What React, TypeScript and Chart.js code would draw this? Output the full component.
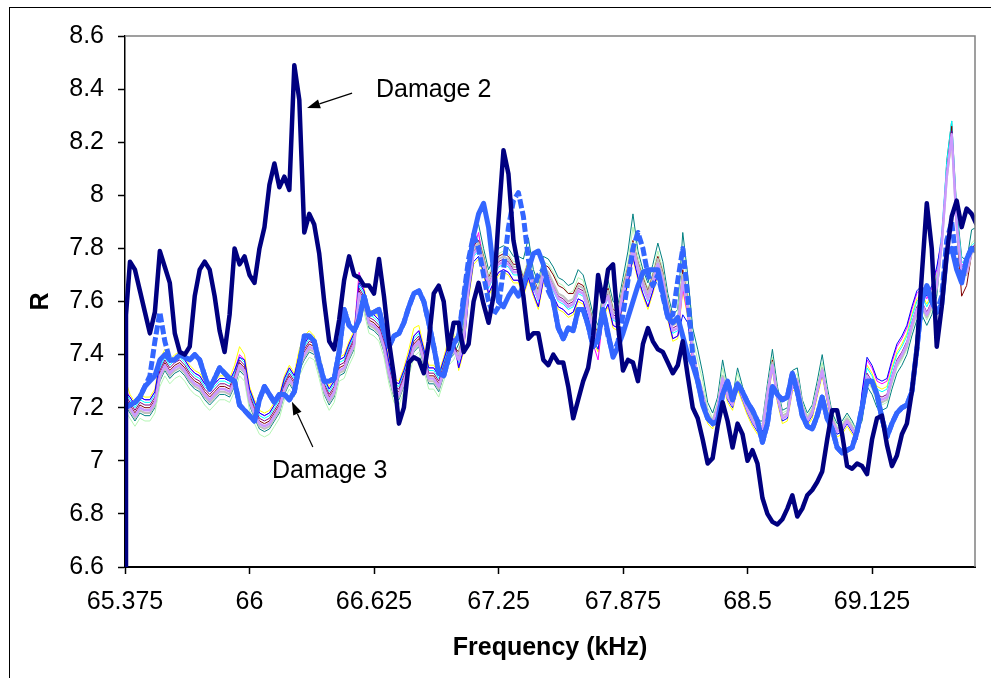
import { useEffect, useRef } from 'react';
import { Chart, registerables } from 'chart.js';

Chart.register(...registerables);

// Sweep grid: 65.375 kHz upward in 0.025 kHz steps (172 samples)
const FREQ_START = 65.375;
const FREQ_STEP = 0.025;
const FREQ_COUNT = 172;
const FREQ = Array.from({ length: FREQ_COUNT }, (_, i) => +(FREQ_START + i * FREQ_STEP).toFixed(3));

const X_MIN = 65.375;
const X_MAX = 69.642;
const X_TICKS = [65.375, 66, 66.625, 67.25, 67.875, 68.5, 69.125];
const Y_TICKS = [6.6, 6.8, 7, 7.2, 7.4, 7.6, 7.8, 8, 8.2, 8.4, 8.6];

// Damage 2 (first sample is a dropout, recovers at 65.38 kHz)
const DAMAGE2_RECOVERY = [65.38, 7.55];
const damage2 = [
  0, 7.75, 7.72, 7.64, 7.56, 7.48, 7.56, 7.79, 7.73, 7.67,
  7.48, 7.41, 7.40, 7.43, 7.62, 7.72, 7.75, 7.72, 7.62, 7.49,
  7.41, 7.55, 7.80, 7.74, 7.77, 7.70, 7.67, 7.80, 7.88, 8.04,
  8.12, 8.03, 8.07, 8.02, 8.49, 8.36, 7.86, 7.93, 7.89, 7.78,
  7.60, 7.45, 7.42, 7.53, 7.68, 7.77, 7.70, 7.69, 7.66, 7.66,
  7.63, 7.76, 7.62, 7.45, 7.32, 7.14, 7.20, 7.37, 7.39, 7.38,
  7.33, 7.45, 7.63, 7.66, 7.60, 7.42, 7.52, 7.52, 7.41, 7.44,
  7.60, 7.67, 7.59, 7.52, 7.62, 7.91, 8.17, 8.08, 7.83, 7.73,
  7.62, 7.46, 7.48, 7.48, 7.38, 7.36, 7.40, 7.37, 7.37, 7.28,
  7.16, 7.23, 7.30, 7.35, 7.47, 7.70, 7.60, 7.72, 7.74, 7.51,
  7.34, 7.38, 7.37, 7.30, 7.44, 7.50, 7.45, 7.42, 7.41, 7.37,
  7.33, 7.36, 7.45, 7.32, 7.20, 7.16, 7.08, 6.99, 7.01, 7.13,
  7.22, 7.15, 7.05, 7.14, 7.10, 7.00, 7.04, 6.99, 6.86, 6.80,
  6.77, 6.76, 6.78, 6.82, 6.87, 6.79, 6.82, 6.87, 6.89, 6.92,
  6.96, 7.08, 7.19, 7.19, 7.10, 6.98, 6.97, 6.99, 6.98, 6.95,
  7.08, 7.16, 7.17, 7.06, 6.98, 7.02, 7.10, 7.14, 7.26, 7.42,
  7.70, 7.97, 7.80, 7.43, 7.58, 7.78, 7.92, 7.98, 7.88, 7.95,
  7.93, 7.89,
];

// Damage 3 (thick solid)
const damage3 = [
  7.20, 7.21, 7.22, 7.24, 7.28, 7.30, 7.32, 7.38, 7.40, 7.38,
  7.38, 7.40, 7.39, 7.38, 7.40, 7.38, 7.32, 7.27, 7.31, 7.35,
  7.33, 7.31, 7.30, 7.21, 7.19, 7.17, 7.15, 7.23, 7.28, 7.25,
  7.22, 7.25, 7.25, 7.23, 7.26, 7.36, 7.47, 7.47, 7.45, 7.37,
  7.30, 7.30, 7.31, 7.41, 7.57, 7.51, 7.49, 7.53, 7.62, 7.55,
  7.56, 7.57, 7.49, 7.43, 7.47, 7.48, 7.52, 7.58, 7.63, 7.64,
  7.60, 7.52, 7.43, 7.33, 7.32, 7.39, 7.44, 7.47, 7.60, 7.73,
  7.85, 7.93, 7.97, 7.88, 7.72, 7.60, 7.58, 7.62, 7.65, 7.62,
  7.66, 7.72, 7.78, 7.79, 7.74, 7.66, 7.60, 7.50, 7.46, 7.50,
  7.49, 7.57, 7.57, 7.51, 7.43, 7.46, 7.57, 7.48, 7.39, 7.43,
  7.48, 7.54, 7.60, 7.66, 7.71, 7.72, 7.72, 7.72, 7.63, 7.54,
  7.52, 7.54, 7.47, 7.40, 7.36, 7.30, 7.21, 7.16, 7.14, 7.15,
  7.25, 7.30, 7.23, 7.29, 7.26, 7.22, 7.19, 7.15, 7.07, 7.14,
  7.28, 7.25, 7.23, 7.24, 7.33, 7.26, 7.17, 7.13, 7.12, 7.17,
  7.24, 7.16, 7.12, 7.05, 7.03, 7.04, 7.05, 7.11, 7.20, 7.30,
  7.30, 7.25, 7.16, 7.09, 7.14, 7.18, 7.20, 7.21, 7.26, 7.42,
  7.60, 7.66, 7.60, 7.56, 7.59, 7.78, 7.80, 7.72, 7.67, 7.76,
  7.80, 7.79,
];

// Damage 1 (thick dashed)
const damage1 = [
  7.20, 7.21, 7.22, 7.24, 7.28, 7.32, 7.45, 7.56, 7.45, 7.38,
  7.38, 7.40, 7.39, 7.38, 7.40, 7.38, 7.32, 7.27, 7.31, 7.35,
  7.33, 7.31, 7.30, 7.21, 7.19, 7.17, 7.15, 7.23, 7.28, 7.25,
  7.22, 7.25, 7.25, 7.23, 7.26, 7.36, 7.47, 7.47, 7.45, 7.37,
  7.30, 7.30, 7.31, 7.41, 7.57, 7.51, 7.49, 7.53, 7.62, 7.55,
  7.56, 7.57, 7.49, 7.43, 7.47, 7.48, 7.52, 7.58, 7.63, 7.64,
  7.60, 7.52, 7.43, 7.33, 7.32, 7.39, 7.44, 7.47, 7.62, 7.76,
  7.85, 7.80, 7.70, 7.60, 7.55, 7.58, 7.72, 7.88, 7.98, 8.01,
  7.92, 7.76, 7.65, 7.70, 7.72, 7.64, 7.60, 7.50, 7.46, 7.50,
  7.49, 7.57, 7.57, 7.51, 7.43, 7.46, 7.57, 7.47, 7.40, 7.45,
  7.55, 7.68, 7.80, 7.86, 7.80, 7.70, 7.66, 7.70, 7.62, 7.54,
  7.55, 7.68, 7.80, 7.62, 7.40, 7.30, 7.22, 7.16, 7.14, 7.15,
  7.25, 7.30, 7.23, 7.29, 7.26, 7.22, 7.19, 7.15, 7.07, 7.14,
  7.28, 7.25, 7.23, 7.24, 7.33, 7.26, 7.17, 7.13, 7.12, 7.17,
  7.24, 7.16, 7.12, 7.05, 7.03, 7.04, 7.05, 7.11, 7.20, 7.30,
  7.30, 7.25, 7.16, 7.09, 7.14, 7.18, 7.20, 7.21, 7.26, 7.42,
  7.60, 7.66, 7.60, 7.56, 7.62, 7.83, 7.90, 7.74, 7.68, 7.76,
  7.80, 7.79,
];

// Undamaged reference sweeps (thin lines)
const baselineTeal = [
  7.21, 7.18, 7.15, 7.18, 7.17, 7.17, 7.20, 7.30, 7.34, 7.31, 7.33, 7.34, 7.32, 7.29, 7.27, 7.26, 7.23, 7.21, 7.23, 7.25,
  7.25, 7.24, 7.28, 7.34, 7.32, 7.21, 7.16, 7.12, 7.11, 7.12, 7.15, 7.18, 7.25, 7.29, 7.26, 7.34, 7.38, 7.41, 7.40, 7.33,
  7.25, 7.21, 7.24, 7.32, 7.33, 7.38, 7.42, 7.61, 7.58, 7.50, 7.49, 7.47, 7.41, 7.31, 7.24, 7.23, 7.28, 7.34, 7.41, 7.43,
  7.36, 7.29, 7.29, 7.26, 7.32, 7.38, 7.40,
  7.44, 7.51, 7.71, 7.87, 7.89, 7.80, 7.72, 7.76, 7.80, 7.81, 7.80, 7.77, 7.77, 7.76, 7.84, 7.72, 7.67, 7.77, 7.76, 7.73,
  7.69, 7.68, 7.66, 7.67, 7.72, 7.70, 7.63, 7.55, 7.51, 7.64, 7.68, 7.60, 7.59, 7.69, 7.79, 7.93, 7.79, 7.72, 7.67, 7.74,
  7.82, 7.75, 7.63, 7.55, 7.57, 7.86, 7.70,
  7.50, 7.42, 7.33, 7.22, 7.18, 7.24, 7.38, 7.28, 7.24, 7.35, 7.28, 7.22, 7.18, 7.15, 7.15, 7.29, 7.42, 7.28, 7.19, 7.20,
  7.34, 7.35, 7.23, 7.18, 7.21, 7.30, 7.40, 7.28, 7.18, 7.14, 7.15, 7.18, 7.15, 7.11,
  7.15, 7.28, 7.25, 7.20, 7.19, 7.20, 7.27, 7.33, 7.36, 7.40, 7.47, 7.53, 7.55, 7.51, 7.55, 7.62,
  7.81, 8.13, 8.28, 7.95, 7.77, 7.75, 7.87, 7.88,
];
const baselineLightGreen = [
  7.19, 7.16, 7.13, 7.16, 7.15, 7.15, 7.18, 7.28, 7.32, 7.29, 7.31, 7.32, 7.30, 7.27, 7.25, 7.24, 7.21, 7.19, 7.21, 7.23,
  7.23, 7.22, 7.26, 7.32, 7.30, 7.19, 7.14, 7.10, 7.09, 7.10, 7.13, 7.16, 7.23, 7.27, 7.24, 7.32, 7.36, 7.39, 7.38, 7.31,
  7.23, 7.19, 7.22, 7.30, 7.31, 7.36, 7.40, 7.59, 7.56, 7.48, 7.47, 7.45, 7.39, 7.29, 7.22, 7.21, 7.26, 7.32, 7.39, 7.41,
  7.34, 7.27, 7.27, 7.24, 7.30, 7.36, 7.38,
  7.42, 7.49, 7.69, 7.83, 7.85, 7.78, 7.70, 7.74, 7.78, 7.79, 7.78, 7.75, 7.75, 7.70, 7.76, 7.70, 7.66, 7.75, 7.74, 7.71,
  7.67, 7.66, 7.63, 7.64, 7.69, 7.68, 7.61, 7.53, 7.49, 7.62, 7.66, 7.58, 7.57, 7.67, 7.75, 7.88, 7.77, 7.70, 7.65, 7.71,
  7.79, 7.72, 7.61, 7.53, 7.55, 7.80, 7.64,
  7.46, 7.38, 7.30, 7.20, 7.16, 7.22, 7.35, 7.26, 7.23, 7.33, 7.26, 7.21, 7.17, 7.14, 7.14, 7.27, 7.39, 7.26, 7.18, 7.19,
  7.31, 7.33, 7.22, 7.17, 7.20, 7.28, 7.37, 7.26, 7.17, 7.13, 7.14, 7.17, 7.14, 7.12,
  7.17, 7.30, 7.27, 7.22, 7.21, 7.22, 7.29, 7.35, 7.38, 7.42, 7.49, 7.55, 7.57, 7.53, 7.57, 7.64,
  7.83, 8.08, 8.22, 7.92, 7.75, 7.74, 7.82, 7.84,
];
const baselineYellow = [
  7.31, 7.25, 7.22, 7.25, 7.24, 7.24, 7.27, 7.38, 7.42, 7.38, 7.40, 7.41, 7.39, 7.36, 7.34, 7.33, 7.30, 7.28, 7.30, 7.32,
  7.32, 7.31, 7.36, 7.43, 7.40, 7.28, 7.23, 7.19, 7.18, 7.19, 7.22, 7.25, 7.32, 7.36, 7.33, 7.42, 7.47, 7.49, 7.47, 7.40,
  7.32, 7.28, 7.31, 7.39, 7.40, 7.45, 7.49, 7.69, 7.65, 7.57, 7.56, 7.54, 7.48, 7.38, 7.31, 7.30, 7.35, 7.42, 7.50, 7.51,
  7.43, 7.36, 7.36, 7.33, 7.39, 7.46, 7.48,
  7.34, 7.41, 7.61, 7.74, 7.76, 7.70, 7.62, 7.66, 7.70, 7.71, 7.70, 7.67, 7.67, 7.62, 7.68, 7.62, 7.57, 7.67, 7.65, 7.61,
  7.57, 7.56, 7.54, 7.55, 7.60, 7.59, 7.53, 7.45, 7.41, 7.54, 7.58, 7.50, 7.49, 7.59, 7.66, 7.76, 7.68, 7.62, 7.57, 7.63,
  7.70, 7.64, 7.53, 7.45, 7.46, 7.64, 7.54,
  7.35, 7.27, 7.21, 7.14, 7.12, 7.18, 7.29, 7.22, 7.19, 7.27, 7.22, 7.17, 7.13, 7.10, 7.10, 7.23, 7.34, 7.22, 7.14, 7.15,
  7.26, 7.28, 7.18, 7.13, 7.16, 7.24, 7.32, 7.22, 7.13, 7.09, 7.10, 7.13, 7.10, 7.08,
  7.23, 7.36, 7.33, 7.28, 7.27, 7.28, 7.35, 7.41, 7.44, 7.48, 7.55, 7.61, 7.63, 7.59, 7.63, 7.70,
  7.82, 8.06, 8.20, 7.88, 7.71, 7.71, 7.79, 7.81,
];
const baselineMagenta = [
  7.27, 7.24, 7.21, 7.24, 7.23, 7.23, 7.26, 7.36, 7.40, 7.37, 7.39, 7.40, 7.38, 7.35, 7.33, 7.32, 7.29, 7.27, 7.29, 7.31,
  7.31, 7.30, 7.34, 7.40, 7.38, 7.27, 7.22, 7.18, 7.17, 7.18, 7.21, 7.24, 7.31, 7.35, 7.32, 7.40, 7.44, 7.47, 7.46, 7.39,
  7.31, 7.27, 7.30, 7.38, 7.39, 7.44, 7.48, 7.71, 7.64, 7.56, 7.55, 7.53, 7.47, 7.37, 7.30, 7.29, 7.34, 7.40, 7.47, 7.49,
  7.42, 7.35, 7.35, 7.32, 7.38, 7.44, 7.46,
  7.35, 7.42, 7.64, 7.80, 7.86, 7.74, 7.63, 7.67, 7.71, 7.72, 7.71, 7.68, 7.68, 7.63, 7.69, 7.63, 7.58, 7.68, 7.66, 7.62,
  7.58, 7.57, 7.55, 7.56, 7.61, 7.60, 7.54, 7.44, 7.38, 7.55, 7.59, 7.51, 7.50, 7.60, 7.67, 7.77, 7.69, 7.63, 7.58, 7.64,
  7.71, 7.65, 7.54, 7.46, 7.47, 7.65, 7.55,
  7.37, 7.29, 7.23, 7.16, 7.14, 7.20, 7.31, 7.24, 7.21, 7.29, 7.24, 7.19, 7.15, 7.12, 7.12, 7.25, 7.36, 7.24, 7.16, 7.17,
  7.28, 7.30, 7.20, 7.15, 7.18, 7.26, 7.34, 7.24, 7.15, 7.11, 7.12, 7.15, 7.12, 7.09,
  7.25, 7.38, 7.35, 7.30, 7.29, 7.30, 7.37, 7.43, 7.46, 7.50, 7.57, 7.63, 7.65, 7.61, 7.65, 7.72,
  7.85, 8.10, 8.25, 7.92, 7.74, 7.73, 7.80, 7.82,
];
const baselineCyan = [
  7.26, 7.23, 7.20, 7.23, 7.22, 7.22, 7.25, 7.35, 7.39, 7.36, 7.38, 7.39, 7.37, 7.34, 7.32, 7.31, 7.28, 7.26, 7.28, 7.30,
  7.30, 7.29, 7.33, 7.39, 7.37, 7.26, 7.21, 7.17, 7.16, 7.17, 7.20, 7.23, 7.30, 7.34, 7.31, 7.39, 7.43, 7.46, 7.45, 7.38,
  7.30, 7.26, 7.29, 7.37, 7.38, 7.43, 7.47, 7.66, 7.63, 7.55, 7.54, 7.52, 7.46, 7.36, 7.29, 7.28, 7.33, 7.39, 7.46, 7.48,
  7.41, 7.34, 7.34, 7.31, 7.37, 7.43, 7.45,
  7.37, 7.44, 7.64, 7.77, 7.79, 7.73, 7.65, 7.69, 7.73, 7.74, 7.73, 7.70, 7.70, 7.65, 7.71, 7.65, 7.60, 7.70, 7.68, 7.64,
  7.60, 7.59, 7.57, 7.58, 7.63, 7.62, 7.56, 7.48, 7.44, 7.57, 7.61, 7.53, 7.52, 7.62, 7.69, 7.79, 7.71, 7.65, 7.60, 7.66,
  7.73, 7.67, 7.56, 7.48, 7.49, 7.67, 7.57,
  7.41, 7.33, 7.26, 7.18, 7.15, 7.21, 7.32, 7.25, 7.22, 7.30, 7.25, 7.20, 7.16, 7.13, 7.13, 7.26, 7.37, 7.25, 7.17, 7.18,
  7.29, 7.31, 7.21, 7.16, 7.19, 7.27, 7.35, 7.25, 7.16, 7.12, 7.13, 7.16, 7.13, 7.10,
  7.22, 7.35, 7.32, 7.27, 7.26, 7.27, 7.34, 7.40, 7.43, 7.47, 7.54, 7.60, 7.62, 7.58, 7.62, 7.69,
  7.86, 8.12, 8.28, 7.93, 7.75, 7.74, 7.81, 7.83,
];
const baselineMaroon = [
  7.24, 7.21, 7.18, 7.21, 7.20, 7.20, 7.23, 7.33, 7.37, 7.34, 7.36, 7.37, 7.35, 7.32, 7.30, 7.29, 7.26, 7.24, 7.26, 7.28,
  7.28, 7.27, 7.31, 7.37, 7.35, 7.24, 7.19, 7.15, 7.14, 7.15, 7.18, 7.21, 7.28, 7.32, 7.29, 7.37, 7.41, 7.44, 7.43, 7.36,
  7.28, 7.24, 7.27, 7.35, 7.36, 7.41, 7.45, 7.64, 7.61, 7.53, 7.52, 7.50, 7.44, 7.34, 7.27, 7.26, 7.31, 7.37, 7.44, 7.46,
  7.39, 7.32, 7.32, 7.29, 7.35, 7.41, 7.43,
  7.41, 7.48, 7.68, 7.81, 7.83, 7.77, 7.69, 7.73, 7.77, 7.78, 7.77, 7.74, 7.74, 7.69, 7.75, 7.69, 7.64, 7.74, 7.73, 7.70,
  7.66, 7.65, 7.63, 7.63, 7.67, 7.66, 7.60, 7.52, 7.48, 7.61, 7.65, 7.57, 7.56, 7.66, 7.73, 7.83, 7.75, 7.69, 7.64, 7.70,
  7.77, 7.71, 7.60, 7.52, 7.53, 7.72, 7.61,
  7.41, 7.33, 7.26, 7.18, 7.15, 7.21, 7.32, 7.25, 7.22, 7.30, 7.25, 7.20, 7.16, 7.13, 7.13, 7.26, 7.38, 7.25, 7.17, 7.18,
  7.29, 7.31, 7.21, 7.16, 7.19, 7.27, 7.35, 7.25, 7.16, 7.12, 7.13, 7.16, 7.13, 7.10,
  7.19, 7.32, 7.29, 7.24, 7.23, 7.24, 7.31, 7.37, 7.40, 7.44, 7.51, 7.57, 7.59, 7.55, 7.59, 7.66,
  7.83, 8.08, 8.26, 7.88, 7.62, 7.66, 7.78, 7.80,
];
const baselineBlue = [
  7.26, 7.24, 7.21, 7.24, 7.23, 7.23, 7.26, 7.37, 7.40, 7.37, 7.39, 7.40, 7.38, 7.35, 7.33, 7.32, 7.29, 7.27, 7.29, 7.31,
  7.31, 7.30, 7.34, 7.39, 7.38, 7.27, 7.22, 7.18, 7.17, 7.18, 7.21, 7.24, 7.31, 7.35, 7.32, 7.40, 7.44, 7.47, 7.46, 7.39,
  7.31, 7.27, 7.30, 7.38, 7.39, 7.44, 7.48, 7.67, 7.64, 7.56, 7.55, 7.53, 7.47, 7.37, 7.30, 7.29, 7.34, 7.40, 7.47, 7.49,
  7.42, 7.35, 7.35, 7.32, 7.38, 7.44, 7.46,
  7.35, 7.42, 7.62, 7.75, 7.77, 7.71, 7.63, 7.67, 7.71, 7.72, 7.71, 7.68, 7.68, 7.63, 7.69, 7.63, 7.58, 7.68, 7.66, 7.62,
  7.58, 7.57, 7.55, 7.56, 7.61, 7.60, 7.54, 7.46, 7.42, 7.55, 7.59, 7.51, 7.50, 7.60, 7.67, 7.77, 7.69, 7.63, 7.58, 7.64,
  7.71, 7.65, 7.54, 7.46, 7.47, 7.55, 7.52,
  7.39, 7.31, 7.24, 7.16, 7.13, 7.19, 7.30, 7.23, 7.20, 7.28, 7.23, 7.18, 7.14, 7.11, 7.11, 7.24, 7.35, 7.23, 7.15, 7.16,
  7.27, 7.29, 7.19, 7.14, 7.17, 7.25, 7.33, 7.23, 7.14, 7.10, 7.11, 7.14, 7.11, 7.08,
  7.26, 7.39, 7.36, 7.31, 7.30, 7.31, 7.38, 7.44, 7.47, 7.51, 7.58, 7.64, 7.66, 7.62, 7.66, 7.73,
  7.83, 8.08, 8.24, 7.90, 7.72, 7.72, 7.80, 7.82,
];
const baselinePurple = [
  7.25, 7.22, 7.19, 7.22, 7.21, 7.21, 7.24, 7.34, 7.38, 7.35, 7.37, 7.38, 7.36, 7.33, 7.31, 7.30, 7.27, 7.25, 7.27, 7.29,
  7.29, 7.28, 7.32, 7.38, 7.36, 7.25, 7.20, 7.16, 7.15, 7.16, 7.19, 7.22, 7.29, 7.33, 7.30, 7.38, 7.42, 7.45, 7.44, 7.37,
  7.29, 7.25, 7.28, 7.36, 7.37, 7.42, 7.46, 7.65, 7.62, 7.54, 7.53, 7.51, 7.45, 7.35, 7.28, 7.27, 7.32, 7.38, 7.45, 7.47,
  7.40, 7.33, 7.33, 7.30, 7.36, 7.42, 7.44,
  7.39, 7.46, 7.66, 7.79, 7.81, 7.75, 7.67, 7.71, 7.75, 7.76, 7.75, 7.72, 7.72, 7.67, 7.73, 7.67, 7.62, 7.72, 7.70, 7.66,
  7.62, 7.61, 7.59, 7.60, 7.65, 7.64, 7.58, 7.50, 7.46, 7.59, 7.63, 7.55, 7.54, 7.64, 7.71, 7.81, 7.73, 7.67, 7.62, 7.68,
  7.75, 7.69, 7.58, 7.50, 7.51, 7.69, 7.59,
  7.40, 7.32, 7.25, 7.17, 7.14, 7.20, 7.31, 7.24, 7.21, 7.29, 7.24, 7.19, 7.15, 7.12, 7.12, 7.25, 7.36, 7.24, 7.16, 7.17,
  7.28, 7.30, 7.20, 7.15, 7.18, 7.26, 7.34, 7.24, 7.15, 7.11, 7.12, 7.15, 7.12, 7.09,
  7.20, 7.33, 7.30, 7.25, 7.24, 7.25, 7.32, 7.38, 7.41, 7.45, 7.52, 7.58, 7.60, 7.56, 7.60, 7.67,
  7.83, 8.08, 8.24, 7.90, 7.72, 7.72, 7.80, 7.82,
];
const baselineLavender = [
  7.23, 7.20, 7.17, 7.20, 7.19, 7.19, 7.22, 7.32, 7.36, 7.33, 7.35, 7.36, 7.34, 7.31, 7.29, 7.28, 7.25, 7.23, 7.25, 7.27,
  7.27, 7.26, 7.30, 7.36, 7.34, 7.23, 7.18, 7.14, 7.13, 7.14, 7.17, 7.20, 7.27, 7.31, 7.28, 7.36, 7.40, 7.43, 7.42, 7.35,
  7.27, 7.23, 7.26, 7.34, 7.35, 7.40, 7.44, 7.63, 7.60, 7.52, 7.51, 7.49, 7.43, 7.33, 7.26, 7.25, 7.30, 7.36, 7.43, 7.45,
  7.38, 7.31, 7.31, 7.28, 7.34, 7.40, 7.42,
  7.38, 7.45, 7.65, 7.78, 7.80, 7.74, 7.66, 7.70, 7.74, 7.75, 7.74, 7.71, 7.71, 7.66, 7.72, 7.66, 7.61, 7.71, 7.69, 7.65,
  7.61, 7.60, 7.58, 7.59, 7.64, 7.63, 7.57, 7.49, 7.45, 7.58, 7.62, 7.54, 7.53, 7.63, 7.70, 7.80, 7.72, 7.66, 7.61, 7.67,
  7.74, 7.68, 7.57, 7.49, 7.50, 7.68, 7.58,
  7.40, 7.32, 7.25, 7.17, 7.14, 7.20, 7.31, 7.24, 7.21, 7.29, 7.24, 7.19, 7.15, 7.12, 7.12, 7.25, 7.36, 7.24, 7.16, 7.17,
  7.28, 7.30, 7.20, 7.15, 7.18, 7.26, 7.34, 7.24, 7.15, 7.11, 7.12, 7.15, 7.12, 7.09,
  7.19, 7.32, 7.29, 7.24, 7.23, 7.24, 7.31, 7.37, 7.40, 7.44, 7.51, 7.57, 7.59, 7.55, 7.59, 7.66,
  7.82, 8.07, 8.23, 7.89, 7.71, 7.71, 7.79, 7.81,
];
const baselineGray = [
  7.22, 7.19, 7.16, 7.19, 7.18, 7.18, 7.21, 7.31, 7.35, 7.32, 7.34, 7.35, 7.33, 7.30, 7.28, 7.27, 7.24, 7.22, 7.24, 7.26,
  7.26, 7.25, 7.29, 7.35, 7.33, 7.22, 7.17, 7.13, 7.12, 7.13, 7.16, 7.19, 7.26, 7.30, 7.27, 7.35, 7.39, 7.42, 7.41, 7.34,
  7.26, 7.22, 7.25, 7.33, 7.34, 7.39, 7.43, 7.62, 7.59, 7.51, 7.50, 7.48, 7.42, 7.32, 7.25, 7.24, 7.29, 7.35, 7.42, 7.44,
  7.37, 7.30, 7.30, 7.27, 7.33, 7.39, 7.41,
  7.40, 7.47, 7.67, 7.80, 7.82, 7.76, 7.68, 7.72, 7.76, 7.77, 7.76, 7.73, 7.73, 7.68, 7.74, 7.68, 7.63, 7.73, 7.71, 7.67,
  7.63, 7.62, 7.60, 7.61, 7.66, 7.65, 7.59, 7.51, 7.47, 7.60, 7.64, 7.56, 7.55, 7.65, 7.72, 7.82, 7.74, 7.68, 7.63, 7.69,
  7.76, 7.70, 7.59, 7.51, 7.52, 7.70, 7.60,
  7.41, 7.33, 7.26, 7.18, 7.15, 7.21, 7.32, 7.25, 7.22, 7.30, 7.25, 7.20, 7.16, 7.13, 7.13, 7.26, 7.37, 7.25, 7.17, 7.18,
  7.29, 7.31, 7.21, 7.16, 7.19, 7.27, 7.35, 7.25, 7.16, 7.12, 7.13, 7.16, 7.13, 7.10,
  7.18, 7.31, 7.28, 7.23, 7.22, 7.23, 7.30, 7.36, 7.39, 7.43, 7.50, 7.56, 7.58, 7.54, 7.58, 7.65,
  7.81, 8.06, 8.22, 7.88, 7.70, 7.70, 7.78, 7.80,
];

const FONT_FAMILY = 'Arial, "Liberation Sans", sans-serif';

type Note = { label: string; text: [number, number]; tail: [number, number]; head: [number, number] };
const NOTES: Note[] = [
  { label: 'Damage 2', text: [66.635, 8.371], tail: [66.515, 8.385], head: [66.289, 8.329] },
  { label: 'Damage 3', text: [66.113, 6.937], tail: [66.318, 7.052], head: [66.213, 7.222] },
];

const toPoints = (values: number[]) => values.map((r, i) => ({ x: FREQ[i], y: r }));

const thin = (values: number[], color: string, width = 1) => ({
  data: toPoints(values),
  borderColor: color,
  borderWidth: width,
});

const plotFrame = {
  id: 'plotFrame',
  afterDatasetsDraw(chart: any) {
    const { ctx, chartArea } = chart;
    const { left, top, right, bottom } = chartArea;
    ctx.save();
    ctx.strokeStyle = '#808080';
    ctx.lineWidth = 1.5;
    ctx.beginPath();
    ctx.moveTo(left, top);
    ctx.lineTo(right, top);
    ctx.lineTo(right, bottom);
    ctx.stroke();
    ctx.restore();
  },
};

const notesPlugin = {
  id: 'damageNotes',
  afterDraw(chart: any) {
    const { ctx, scales } = chart;
    const px = (f: number) => scales.x.getPixelForValue(f);
    const py = (r: number) => scales.y.getPixelForValue(r);
    ctx.save();
    for (const n of NOTES) {
      const x1 = px(n.tail[0]);
      const y1 = py(n.tail[1]);
      const x2 = px(n.head[0]);
      const y2 = py(n.head[1]);
      const ang = Math.atan2(y2 - y1, x2 - x1);
      const len = 13;
      const half = 4.5;
      const bx = x2 - len * Math.cos(ang);
      const by = y2 - len * Math.sin(ang);
      ctx.strokeStyle = '#000';
      ctx.lineWidth = 1.2;
      ctx.beginPath();
      ctx.moveTo(x1, y1);
      ctx.lineTo(bx, by);
      ctx.stroke();
      ctx.fillStyle = '#000';
      ctx.beginPath();
      ctx.moveTo(x2, y2);
      ctx.lineTo(bx + half * Math.sin(ang), by - half * Math.cos(ang));
      ctx.lineTo(bx - half * Math.sin(ang), by + half * Math.cos(ang));
      ctx.closePath();
      ctx.fill();
      ctx.font = `25px ${FONT_FAMILY}`;
      ctx.textAlign = 'left';
      ctx.textBaseline = 'alphabetic';
      ctx.fillText(n.label, px(n.text[0]), py(n.text[1]));
    }
    ctx.restore();
  },
};

export default function App() {
  const canvasRef = useRef<HTMLCanvasElement | null>(null);

  useEffect(() => {
    const canvas = canvasRef.current;
    if (!canvas) return;

    const damage2Points = toPoints(damage2);
    damage2Points.splice(1, 0, { x: DAMAGE2_RECOVERY[0], y: DAMAGE2_RECOVERY[1] });

    const chart = new Chart(canvas, {
      type: 'line',
      data: {
        datasets: [
          { data: damage2Points, borderColor: '#000080', borderWidth: 4.5 },
          { data: toPoints(damage3), borderColor: '#3366ff', borderWidth: 5 },
          { data: toPoints(damage1), borderColor: '#3366ff', borderWidth: 5, borderDash: [9, 3] },
          thin(baselineLavender, '#cc99ff', 2.5),
          thin(baselineGray, '#c0c0c0', 2),
          thin(baselinePurple, '#800080'),
          thin(baselineBlue, '#0000ff'),
          thin(baselineMaroon, '#800000'),
          thin(baselineCyan, '#00ffff'),
          thin(baselineMagenta, '#ff00ff'),
          thin(baselineYellow, '#ffff00'),
          thin(baselineLightGreen, '#b3f5b3'),
          thin(baselineTeal, '#008080'),
        ] as any,
      },
      options: {
        animation: false,
        responsive: false,
        devicePixelRatio: 1,
        events: [],
        layout: { padding: { left: 0, top: 36, right: 16, bottom: 0 } },
        plugins: { legend: { display: false }, tooltip: { enabled: false } },
        elements: {
          point: { radius: 0 },
          line: { tension: 0, borderJoinStyle: 'round', fill: false },
        },
        scales: {
          x: {
            type: 'linear',
            min: X_MIN,
            max: X_MAX,
            afterBuildTicks: (s: any) => {
              s.ticks = X_TICKS.map((v) => ({ value: v }));
            },
            afterFit: (s: any) => {
              s.height = 111;
            },
            ticks: {
              autoSkip: false,
              maxRotation: 0,
              color: '#000',
              padding: 13,
              font: { size: 25, family: FONT_FAMILY },
              callback: (v: any) => String(+(+v).toFixed(3)),
            },
            grid: { display: true, drawOnChartArea: false, drawTicks: true, tickLength: 7, tickColor: '#000', tickWidth: 1.5 },
            border: { display: true, color: '#000', width: 2 },
            title: {
              display: true,
              text: 'Frequency (kHz)',
              color: '#000',
              font: { size: 25, weight: 'bold', family: FONT_FAMILY },
              padding: { top: 0, bottom: 15 },
            },
          },
          y: {
            type: 'linear',
            min: 6.6,
            max: 8.6,
            afterBuildTicks: (s: any) => {
              s.ticks = Y_TICKS.map((v) => ({ value: v }));
            },
            afterFit: (s: any) => {
              s.width = 125;
            },
            ticks: {
              color: '#000',
              padding: 14,
              font: { size: 25, family: FONT_FAMILY },
              callback: (v: any) => String(+(+v).toFixed(1)),
            },
            grid: { display: true, drawOnChartArea: false, drawTicks: true, tickLength: 7, tickColor: '#000', tickWidth: 1.5 },
            border: { display: true, color: '#000', width: 1.5 },
            title: {
              display: true,
              text: 'R',
              color: '#000',
              font: { size: 25, weight: 'bold', family: FONT_FAMILY },
              padding: { top: 26, bottom: 0 },
            },
          },
        },
      } as any,
      plugins: [plotFrame, notesPlugin],
    });

    return () => chart.destroy();
  }, []);

  return (
    <div
      style={{
        position: 'fixed',
        left: 0,
        top: 0,
        width: 991,
        height: 678,
        overflow: 'hidden',
        background: '#fff',
      }}
    >
      <div
        style={{
          position: 'absolute',
          left: 9,
          top: 7,
          width: 1200,
          height: 900,
          borderTop: '1px solid #000',
          borderLeft: '1px solid #000',
        }}
      />
      <canvas
        ref={canvasRef}
        width={991}
        height={678}
        style={{ position: 'absolute', left: 0, top: 0, width: 991, height: 678 }}
      />
    </div>
  );
}
